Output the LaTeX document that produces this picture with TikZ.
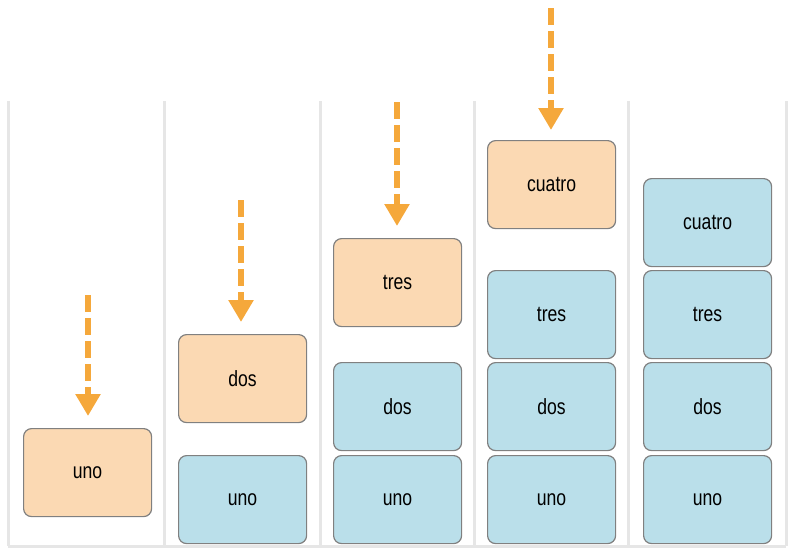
\documentclass[tikz,border=0pt]{standalone}
\usepackage{fontspec}
\setmainfont{Liberation Sans}[FakeStretch=0.8]
\usetikzlibrary{arrows.meta}
\definecolor{newfill}{HTML}{FBD9B3}
\definecolor{stackfill}{HTML}{BADFEA}
\definecolor{boxline}{HTML}{808080}
\definecolor{arrowc}{HTML}{F5A83B}
\definecolor{sepc}{HTML}{E6E6E6}
\tikzset{
  card/.style={draw=boxline, line width=1.2pt, rounded corners=8pt, minimum width=128pt, minimum height=88pt, inner sep=0pt, font=\fontsize{22}{24}\selectfont, anchor=north west},
  newcard/.style={card, fill=newfill},
  oldcard/.style={card, fill=stackfill},
  pusharrow/.style={draw=arrowc, line width=6pt, dash pattern=on 17pt off 6pt, -{Triangle[width=24pt,length=22pt]}},
  sep/.style={draw=sepc, line width=3pt}
}
\begin{document}
\begin{tikzpicture}[x=1pt,y=-1pt]
\useasboundingbox (0,0) rectangle (792,549);
% separators
\foreach \x in {8,164,320,474,628,786} \draw[sep] (\x,101) -- (\x,546);
\draw[sep] (8,546) -- (786,546);
% column 1
\node[newcard] (c1uno) at (23,428) {uno};
\coordinate (a1s) at (88,295);
\draw[pusharrow] (a1s) -- ([yshift=12pt]c1uno.north -| a1s);
% column 2
\node[newcard] (c2dos) at (178,334) {dos};
\node[oldcard] (c2uno) at (178,455) {uno};
\coordinate (a2s) at (241,200);
\draw[pusharrow] (a2s) -- ([yshift=12pt]c2dos.north -| a2s);
% column 3
\node[newcard] (c3tres) at (333,238) {tres};
\node[oldcard] (c3dos) at (333,362) {dos};
\node[oldcard] (c3uno) at (333,455) {uno};
\coordinate (a3s) at (397,102);
\draw[pusharrow] (a3s) -- ([yshift=12pt]c3tres.north -| a3s);
% column 4
\node[newcard] (c4cuatro) at (487,140) {cuatro};
\node[oldcard] (c4tres) at (487,270) {tres};
\node[oldcard] (c4dos) at (487,362) {dos};
\node[oldcard] (c4uno) at (487,455) {uno};
\coordinate (a4s) at (551,8);
\draw[pusharrow] (a4s) -- ([yshift=10pt]c4cuatro.north -| a4s);
% column 5
\node[oldcard] (c5cuatro) at (643,178) {cuatro};
\node[oldcard] (c5tres) at (643,270) {tres};
\node[oldcard] (c5dos) at (643,362) {dos};
\node[oldcard] (c5uno) at (643,455) {uno};
\end{tikzpicture}
\end{document}
